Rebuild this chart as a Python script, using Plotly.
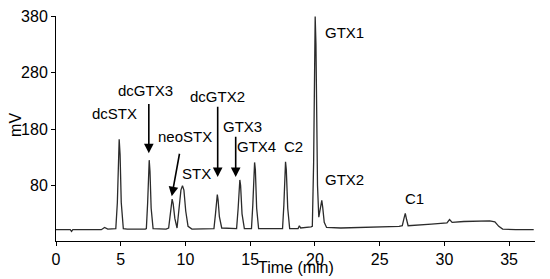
import plotly.graph_objects as go

# chromatogram trace (time in min, signal in mV)
time_min = [0, 1.1, 1.2, 1.3, 3.5, 3.75, 4.0, 4.5,
            4.62, 4.74, 4.82, 4.88, 4.95, 5.04, 5.2, 5.5, 6.9,
            6.98, 7.08, 7.15, 7.2, 7.26, 7.35, 7.5, 8.5,
            8.7, 8.82, 8.92, 8.97, 9.05, 9.18, 9.35,
            9.5, 9.65, 9.77, 9.88, 10.02, 10.2, 10.5, 12.0,
            12.2, 12.32, 12.41, 12.46, 12.52, 12.62, 12.8, 13.8,
            13.95, 14.07, 14.15, 14.2, 14.26, 14.37, 14.55,
            15.1, 15.2, 15.29, 15.34, 15.4, 15.5, 15.65, 17.3,
            17.5, 17.6, 17.68, 17.73, 17.79, 17.9, 18.05,
            18.7, 18.8, 18.9, 19.7,
            19.8, 19.9, 19.97, 20.02, 20.08, 20.2, 20.3,
            20.38, 20.47, 20.53, 20.6, 20.72, 20.9, 22.0, 26.5,
            26.75, 26.88, 26.98, 27.08, 27.2,
            29.0, 30.2, 30.4, 30.6, 31.5, 33.5, 33.9, 34.2, 34.5, 35.5, 36.9]
signal_mv = [2, 2, -1, 2, 2, 6, 3, 3,
             4, 50, 135, 162, 135, 50, 4, 3, 3,
             4, 50, 110, 125, 105, 40, 4, 3,
             5, 30, 53, 56, 48, 22, 5,
             35, 72, 80, 72, 35, 8, 3, 3,
             4, 30, 60, 64, 55, 25, 5, 3,
             4, 40, 85, 90, 80, 30, 4,
             4, 45, 112, 121, 108, 40, 4, 3,
             4, 45, 112, 122, 108, 40, 4,
             4, 9, 5, 7,
             8, 120, 340, 379, 330, 80, 24,
             35, 52, 54, 42, 15, 6, 5, 8,
             9, 22, 31, 20, 9,
             12, 14, 20, 15, 16.5, 17.5, 16, 8, 3, 2, 2]

# peak labels: text, x, y
label_text = ["dcSTX", "dcGTX3", "neoSTX", "STX", "dcGTX2", "GTX3",
              "GTX4", "C2", "GTX1", "GTX2", "C1"]
label_x = [4.55, 6.95, 9.95, 10.87, 12.44, 14.39, 15.47, 18.35, 22.28, 22.28, 27.73]
label_y = [208, 249, 166, 102, 238, 185, 150, 150, 350, 90, 57]

# arrows: tail (x0, y0) -> head (x1, y1)
arrow_x0 = [7.17, 9.56, 12.49, 13.88]
arrow_y0 = [227, 139, 222, 169]
arrow_x1 = [7.17, 8.94, 12.49, 13.88]
arrow_y1 = [137, 61, 95, 95]

x_ticks = [0, 5, 10, 15, 20, 25, 30, 35]
y_ticks = [80, 180, 280, 380]

fig = go.Figure()

fig.add_trace(go.Scatter(
    x=time_min,
    y=signal_mv,
    mode='lines',
    line=dict(color='#2b2b2b', width=1.3),
    showlegend=False
))

for t, x, y in zip(label_text, label_x, label_y):
    fig.add_annotation(x=x, y=y, text=t, showarrow=False,
                       font=dict(size=15, color='black'))

for x0, y0, x1, y1 in zip(arrow_x0, arrow_y0, arrow_x1, arrow_y1):
    fig.add_annotation(x=x1, y=y1, ax=x0, ay=y0, xref='x', yref='y',
                       axref='x', ayref='y', text='', showarrow=True,
                       arrowhead=2, arrowsize=1.2, arrowwidth=1.6,
                       arrowcolor='black')

axis_font = dict(family='Liberation Sans, Arial', size=16, color='black')

# axis titles placed by hand (automargin is off)
fig.add_annotation(xref='paper', yref='paper', x=0, y=0.516, xshift=-40,
                   xanchor='center', yanchor='middle',
                   text='mV', textangle=-90, showarrow=False, font=axis_font)
fig.add_annotation(xref='paper', yref='paper', x=0.5, y=0, yshift=-26,
                   xanchor='center', yanchor='middle',
                   text='Time (min)', showarrow=False, font=axis_font)

# page body has an 8px margin, so the figure starts at (8, 8) in the window
fig.update_layout(
    width=542,
    height=271,
    margin=dict(l=48, r=15, t=8, b=38),
    plot_bgcolor='white',
    paper_bgcolor='white',
    font=dict(family='Liberation Sans, Arial', size=15, color='black'),
    xaxis=dict(
        range=[0, 37],
        tickvals=x_ticks,
        automargin=False,
        showgrid=False,
        zeroline=False,
        showline=True,
        linecolor='black',
        linewidth=1,
        ticks='outside',
        ticklen=4,
        tickcolor='black',
        tickfont=axis_font,
        ticklabeloverflow='allow'
    ),
    yaxis=dict(
        range=[-18, 380],
        tickvals=y_ticks,
        automargin=False,
        showgrid=False,
        zeroline=False,
        showline=True,
        linecolor='black',
        linewidth=1,
        ticks='outside',
        ticklen=4,
        tickcolor='black',
        tickfont=axis_font,
        ticklabeloverflow='allow'
    )
)

fig.write_html("out.html")
